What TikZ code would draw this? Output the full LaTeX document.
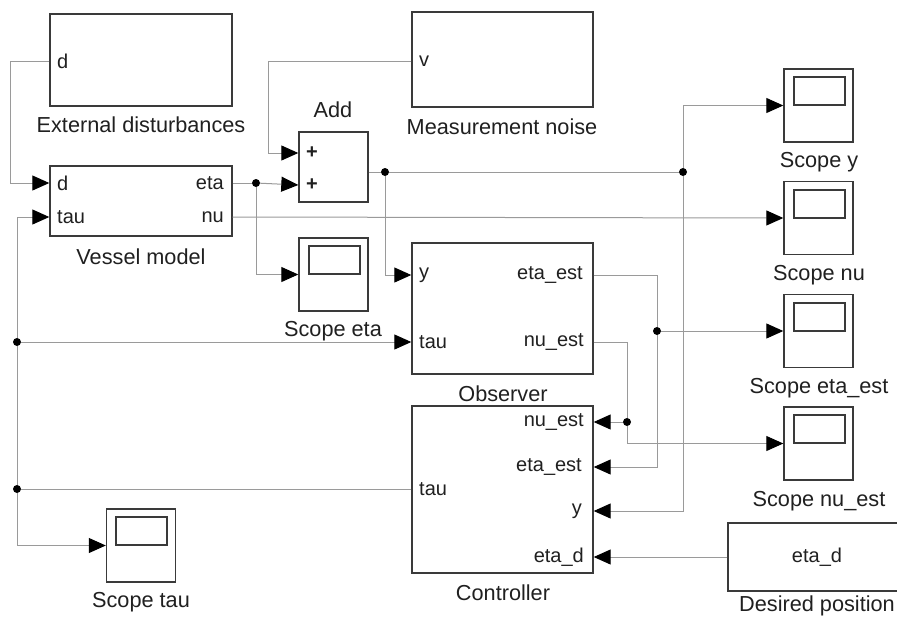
\documentclass[tikz,border=0pt]{standalone}
\usepackage{fontspec}
\setmainfont{Liberation Sans}
\usetikzlibrary{arrows.meta}
\definecolor{boxc}{HTML}{3A3A3A}
\definecolor{wirec}{HTML}{9A9A9A}
\definecolor{txtc}{HTML}{202020}
\begin{document}
\begin{tikzpicture}[x=1pt,y=-1pt,
  blk/.style={draw=boxc,line width=1.4pt,inner sep=0pt,fill=white},
  scopebox/.style={blk,minimum width=69pt,minimum height=73pt},
  screen/.style={draw=boxc,line width=2pt},
  wire/.style={draw=wirec,line width=1pt},
  sig/.style={wire,-{Triangle[length=17pt,width=15pt,fill=black,color=black]}},
  jdot/.style={circle,fill=black,inner sep=0pt,minimum size=8pt},
  port/.style={inner sep=0pt,text=txtc,font=\fontsize{20}{22}\selectfont},
  lbl/.style={inner sep=0pt,text=txtc,font=\fontsize{21.7}{24}\selectfont}]
\clip (0,0) rectangle (897,619);
\fill[white] (0,0) rectangle (897,619);
% blocks
\node[blk,minimum width=182pt,minimum height=92pt] (ext) at (141,60) {};
\node[blk,minimum width=182pt,minimum height=70pt] (ves) at (141,201) {};
\node[blk,minimum width=69pt,minimum height=70pt] (add) at (333.5,167) {};
\node[blk,minimum width=181pt,minimum height=95pt] (noise) at (502.5,59.5) {};
\node[blk,minimum width=181pt,minimum height=131pt] (obs) at (502.5,308.5) {};
\node[blk,minimum width=181pt,minimum height=167pt] (ctrl) at (502.5,489.5) {};
\node[blk,minimum width=178pt,minimum height=68pt] (des) at (817,557) {};
\node[scopebox] (seta) at (333.5,274.5) {};
\node[scopebox] (scy) at (818.5,105.5) {};
\node[scopebox] (scnu) at (818.5,218) {};
\node[scopebox] (sceta) at (818.5,331) {};
\node[scopebox] (scnuest) at (818.5,443.5) {};
\node[scopebox] (sctau) at (141,545.5) {};
% scope screens
\foreach \s in {seta,scy,scnu,sceta,scnuest,sctau}{
  \draw[screen] ([xshift=-25pt,yshift=-9pt]\s.north) rectangle ([xshift=26pt,yshift=-37pt]\s.north);
}
% port labels
\node[port,anchor=west] (pextd) at (57,61) {d};
\node[port,anchor=west] (pvd) at (57,183) {d};
\node[port,anchor=west] (pvtau) at (57,217) {tau};
\node[port,anchor=east] (pveta) at (224,183) {eta};
\node[port,anchor=east] (pvnu) at (224,217) {nu};
\node[port,font=\fontsize{20}{22}\selectfont\bfseries] (pplus1) at (312,153) {+};
\node[port,font=\fontsize{20}{22}\selectfont\bfseries] (pplus2) at (312,185) {+};
\node[port,anchor=west] (pv) at (419,61) {v};
\node[port,anchor=west] (poy) at (419,275) {y};
\node[port,anchor=west] (potau) at (419,342) {tau};
\node[port,anchor=east] (poeta) at (583,275) {eta\_est};
\node[port,anchor=east] (ponu) at (584,342) {nu\_est};
\node[port,anchor=east] (pcnu) at (584,422) {nu\_est};
\node[port,anchor=east] (pceta) at (582,467) {eta\_est};
\node[port,anchor=east] (pcy) at (582,511) {y};
\node[port,anchor=east] (pced) at (584,557) {eta\_d};
\node[port,anchor=west] (pctau) at (419,489) {tau};
\node[port] (pdes) at (817,557) {eta\_d};
% block labels
\node[lbl] (lext) at (141,125) {External disturbances};
\node[lbl] (lves) at (141,257) {Vessel model};
\node[lbl] (ladd) at (333,110) {Add};
\node[lbl] (lnoise) at (502,127) {Measurement noise};
\node[lbl] (lseta) at (333,331) {Scope eta};
\node[lbl] (lscy) at (819,162) {Scope y};
\node[lbl] (lscnu) at (819,275) {Scope nu};
\node[lbl] (lobs) at (503,394) {Observer};
\node[lbl] (lsceta) at (819,388) {Scope eta\_est};
\node[lbl] (lscnuest) at (819,501) {Scope nu\_est};
\node[lbl] (lctrl) at (503,593) {Controller};
\node[lbl] (ldes) at (817,606) {Desired position};
\node[lbl] (lsctau) at (141,602) {Scope tau};
% junction points
\node[jdot] (j1) at (256,183) {};
\node[jdot] (j2) at (385,172) {};
\node[jdot] (j3) at (683,172) {};
\node[jdot] (j4) at (657,331) {};
\node[jdot] (j5) at (627,422) {};
\node[jdot] (j6) at (17,342) {};
\node[jdot] (j7) at (17,489) {};
% connectors
\draw[sig] (ext.west |- pextd) -| (10,183) -- (ves.west |- pvd);
\draw[sig] (noise.west |- pv) -| (268,153) -- (add.west |- pplus1);
\draw[wire] (ves.east |- pveta) -- (j1);
\draw[sig] (j1) -- (add.west |- pplus2);
\draw[sig] (j1) |- (seta.west);
\draw[wire] (add.east |- j2) -- (j2);
\draw[wire] (j2) -- (j3);
\draw[sig] (j2) |- (obs.west |- poy);
\draw[sig] (j3) |- (scy.west);
\draw[sig] (j3) |- (ctrl.east |- pcy);
\draw[sig] (ves.east |- pvnu) -- (scnu.west);
\draw[wire] (obs.east |- poeta) -| (j4);
\draw[sig] (j4) -- (sceta.west);
\draw[sig] (j4) |- (ctrl.east |- pceta);
\draw[wire] (obs.east |- ponu) -| (j5);
\draw[sig] (j5) -- (ctrl.east |- pcnu);
\draw[sig] (j5) |- (scnuest.west);
\draw[sig] (des.west) -- (ctrl.east |- pced);
\draw[wire] (ctrl.west |- pctau) -- (j7);
\draw[sig] (j6) |- (ves.west |- pvtau);
\draw[wire] (j6) -- (j7);
\draw[sig] (j6) -- (obs.west |- potau);
\draw[sig] (j7) |- (sctau.west);
\end{tikzpicture}
\end{document}
